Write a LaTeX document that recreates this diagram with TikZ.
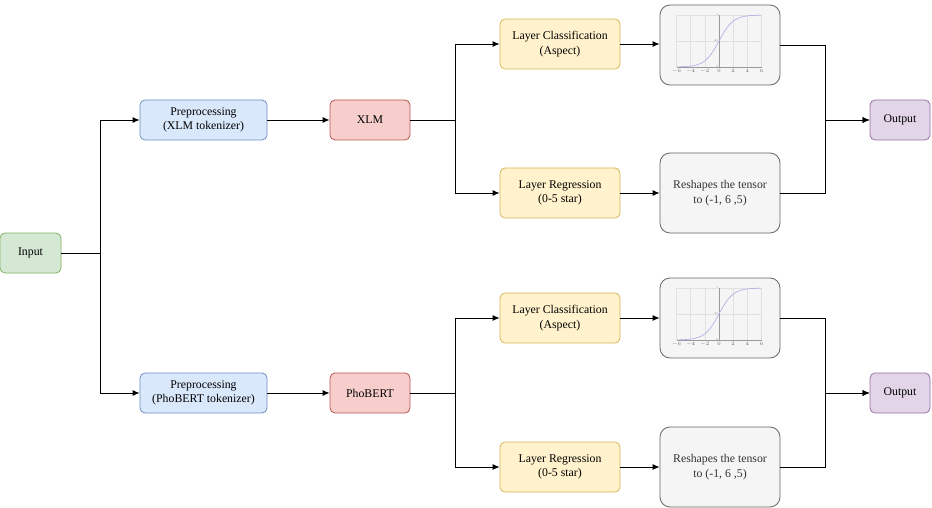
\documentclass[tikz,border=0pt]{standalone}
\usepackage{fontspec}
\setmainfont{Liberation Serif}
\usetikzlibrary{arrows.meta}
\definecolor{inFill}{HTML}{D5E8D4}\definecolor{inLine}{HTML}{82B366}
\definecolor{preFill}{HTML}{DAE8FC}\definecolor{preLine}{HTML}{6C8EBF}
\definecolor{modFill}{HTML}{F8CECC}\definecolor{modLine}{HTML}{B85450}
\definecolor{layFill}{HTML}{FFF2CC}\definecolor{layLine}{HTML}{D6B656}
\definecolor{grFill}{HTML}{F5F5F5}\definecolor{grLine}{HTML}{666666}
\definecolor{grText}{HTML}{333333}
\definecolor{outFill}{HTML}{E1D5E7}\definecolor{outLine}{HTML}{9673A6}
\definecolor{sigCurve}{HTML}{A9ADE6}
\newcommand{\fs}{\fontsize{11.8}{14.5}\selectfont}
% small sigmoid chart, #1 = vertical shift
\newcommand{\sigplot}[1]{%
  \begin{scope}[yshift=-#1pt]
   \foreach \g in {-6,-4,...,6}
     \draw[black!12,line width=0.4pt] ({719+7.08*\g},15) -- ({719+7.08*\g},67);
   \foreach \h in {15,41,67}
     \draw[black!12,line width=0.4pt] (677,\h) -- (762,\h);
   \draw[black!40,line width=1pt] (719,15) -- (719,67);
   \draw[black!40,line width=0.5pt] (677,67) -- (762,67);
   \draw[sigCurve,line width=0.6pt] plot[domain=-6:6,samples=60]
     ({719+7.08*\x},{67-52/(1+exp(-\x))});
   \foreach \g in {-6,-4,-2,0,2,4,6}
     \node[font=\fontsize{2.6}{3}\selectfont,text=black!60,inner sep=0pt]
       at ({719+7.08*\g},71) {$\g$};
   \node[font=\fontsize{2.6}{3}\selectfont,text=black!60,inner sep=0pt,anchor=east] at (718,15) {1};
   \node[font=\fontsize{2.6}{3}\selectfont,text=black!60,inner sep=0pt,anchor=east] at (718,41) {0.5};
   \node[font=\fontsize{2.6}{3}\selectfont,text=black!60,inner sep=0pt,anchor=east] at (718,67) {0};
  \end{scope}}

\begin{document}
\begin{tikzpicture}[x=1pt,y=-1pt,
   box/.style={draw,line width=0.8pt,rounded corners=5pt,align=center,font=\fs,inner sep=0pt},
   inbox/.style={box,fill=inFill,draw=inLine,minimum width=61pt,minimum height=40pt},
   prebox/.style={box,fill=preFill,draw=preLine,minimum width=127pt,minimum height=40pt},
   modbox/.style={box,fill=modFill,draw=modLine,minimum width=80pt,minimum height=40pt},
   laybox/.style={box,fill=layFill,draw=layLine,minimum width=120pt,minimum height=50pt},
   grbox/.style={box,fill=grFill,draw=grLine,text=grText,rounded corners=10pt,minimum width=120pt,minimum height=80pt},
   outbox/.style={box,fill=outFill,draw=outLine,minimum width=60pt,minimum height=40pt},
   conn/.style={line width=0.9pt},
   arr/.style={conn,-{Latex[length=7pt,width=6pt]}}]
  \useasboundingbox (0,0) rectangle (932,508);

  \node[inbox] (input) at (30.5,253) {Input};
  % upper branch
  \node[prebox] (preX) at (203.5,120) {Preprocessing\\(XLM tokenizer)};
  \node[modbox] (xlm) at (370,120) {XLM};
  \node[laybox] (clsX) at (560,44) {Layer Classification\\(Aspect)};
  \node[laybox] (regX) at (560,193) {Layer Regression\\(0-5 star)};
  \node[grbox] (sigX) at (720,45) {};
  \node[grbox] (resX) at (720,193) {Reshapes the tensor\\to (-1, 6 ,5)};
  \node[outbox] (outX) at (900,120) {Output};
  % lower branch
  \node[prebox] (preP) at (203.5,393) {Preprocessing\\(PhoBERT tokenizer)};
  \node[modbox] (pho) at (370,393) {PhoBERT};
  \node[laybox] (clsP) at (560,318) {Layer Classification\\(Aspect)};
  \node[laybox] (regP) at (560,467) {Layer Regression\\(0-5 star)};
  \node[grbox] (sigP) at (720,318) {};
  \node[grbox] (resP) at (720,467) {Reshapes the tensor\\to (-1, 6 ,5)};
  \node[outbox] (outP) at (900,393) {Output};

  \sigplot{0}
  \sigplot{273}

  \draw[arr] (input.east) -| (100,0|-preX) -- (preX.west);
  \draw[arr] (input.east) -| (100,0|-preP) -- (preP.west);
  \draw[arr] (preX) -- (xlm);
  \draw[arr] (preP) -- (pho);
  \draw[arr] (xlm.east) -| (455,0|-clsX) -- (clsX.west);
  \draw[arr] (xlm.east) -| (455,0|-regX) -- (regX.west);
  \draw[arr] (pho.east) -| (455,0|-clsP) -- (clsP.west);
  \draw[arr] (pho.east) -| (455,0|-regP) -- (regP.west);
  \draw[arr] (clsX.east) -- (sigX.west|-clsX);
  \draw[arr] (regX) -- (resX);
  \draw[arr] (clsP.east) -- (sigP.west|-clsP);
  \draw[arr] (regP) -- (resP);
  \draw[arr] (sigX.east) -| (825,0|-outX) -- (outX.west);
  \draw[arr] (resX.east) -| (825,0|-outX) -- (outX.west);
  \draw[arr] (sigP.east) -| (825,0|-outP) -- (outP.west);
  \draw[arr] (resP.east) -| (825,0|-outP) -- (outP.west);
\end{tikzpicture}
\end{document}
